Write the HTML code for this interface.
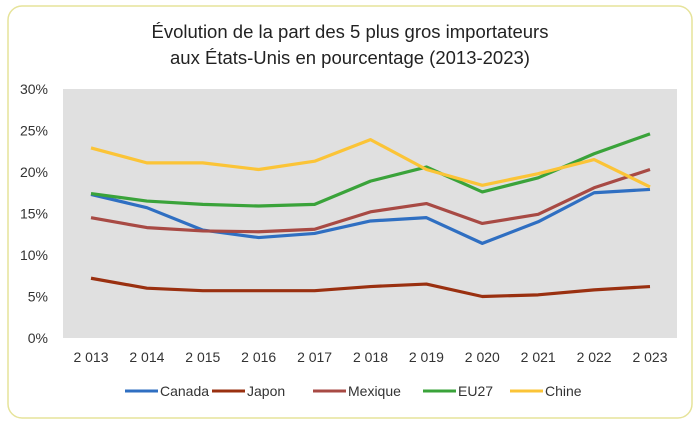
<!DOCTYPE html>
<html><head><meta charset="utf-8"><style>
body{margin:0;background:#fff;}
svg{display:block;font-family:"Liberation Sans",sans-serif;}
</style></head><body>
<svg width="700" height="424" viewBox="0 0 700 424">
<rect x="8" y="6" width="684" height="412" rx="14" fill="#fff" stroke="#e6e39a" stroke-width="1.5"/>
<text x="350" y="38" text-anchor="middle" font-size="18.5" fill="#222">Évolution de la part des 5 plus gros importateurs</text>
<text x="350" y="64" text-anchor="middle" font-size="18.5" fill="#222">aux États-Unis en pourcentage (2013-2023)</text>
<rect x="63" y="89" width="614" height="249" fill="#e0e0e0"/>
<g id="yaxis"></g><g id="xaxis"></g><g id="series"></g><g id="legend"></g>
</svg>
<script>
const years=["2013","2014","2015","2016","2017","2018","2019","2020","2021","2022","2023"];
const yTicks=[0,5,10,15,20,25,30];
const canada=[17.3,15.7,13.0,12.1,12.6,14.1,14.5,11.4,14.0,17.5,17.9];
const japon=[7.2,6.0,5.7,5.7,5.7,6.2,6.5,5.0,5.2,5.8,6.2];
const mexique=[14.5,13.3,12.9,12.8,13.1,15.2,16.2,13.8,14.9,18.1,20.3];
const eu27=[17.4,16.5,16.1,15.9,16.1,18.9,20.6,17.6,19.3,22.2,24.6];
const chine=[22.9,21.1,21.1,20.3,21.3,23.9,20.3,18.4,19.8,21.5,18.2];
const seriesNames=["Canada","Japon","Mexique","EU27","Chine"];
const ns="http://www.w3.org/2000/svg";
const colors=["#2f6fc2","#9a3010","#a84a44","#3aa33a","#fbc437"];
const x=i=>91+i*55.9;
const y=v=>338-v*(249/30);
function mk(t,a,p){const e=document.createElementNS(ns,t);for(const k in a)e.setAttribute(k,a[k]);p.appendChild(e);return e;}
const ya=document.getElementById('yaxis');
yTicks.forEach(t=>{const e=mk('text',{x:48,y:y(t)+5,'text-anchor':'end','font-size':14,fill:'#333'},ya);e.textContent=t+'%';

});
const xa=document.getElementById('xaxis');
years.forEach((yr,i)=>{const e=mk('text',{x:x(i),y:362,'text-anchor':'middle','font-size':14,fill:'#333'},xa);e.textContent=yr[0]+' '+yr.slice(1);

});
const sg=document.getElementById('series');
[canada,japon,mexique,eu27,chine].forEach((d,s)=>{const p=mk('polyline',{points:d.map((v,i)=>x(i)+','+y(v)).join(' '),fill:'none',stroke:colors[s],'stroke-width':3.2,'stroke-linejoin':'round'},sg);

});
const lg=document.getElementById('legend');
const lx=[125,212,313,423,510];
seriesNames.forEach((n,s)=>{const g=mk('g',{},lg);


mk('line',{x1:lx[s],x2:lx[s]+33,y1:391,y2:391,stroke:colors[s],'stroke-width':3},g);
const t=mk('text',{x:lx[s]+35,y:396,'font-size':14,fill:'#333'},g);t.textContent=n;});
</script>
</body></html>
